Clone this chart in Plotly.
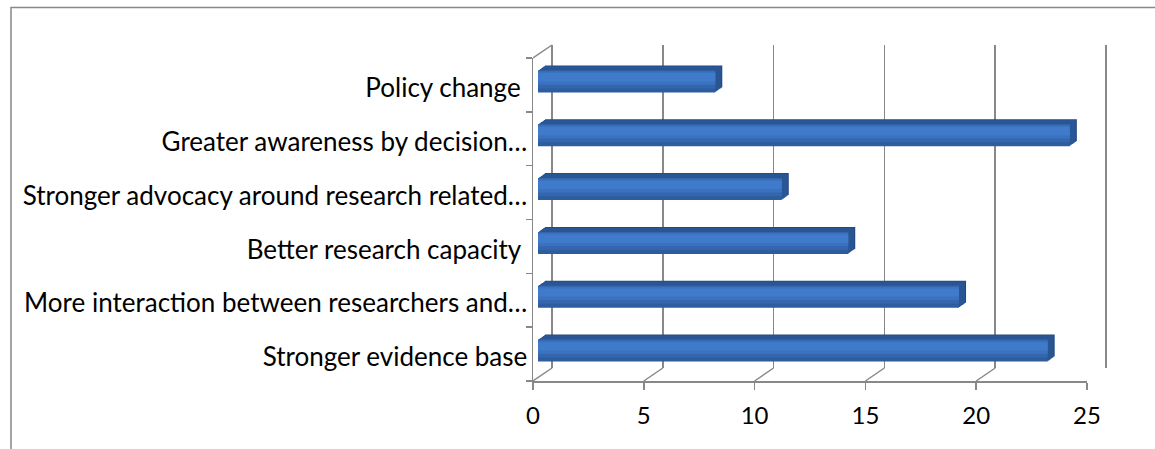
import plotly.graph_objects as go

# ---- data ----
categories = [
    "Stronger evidence base",
    "More interaction between researchers and…",
    "Better research capacity\u00a0",
    "Stronger advocacy around research related…",
    "Greater awareness by decision…",
    "Policy change\u00a0",
]
values = [23, 19, 14, 11, 24, 8]
x_ticks = [0, 5, 10, 15, 20, 25]

# ---- geometry / style ----
W, H = 1155, 449
def px(x):
    return x / W
def py(y):
    return 1 - y / H

FX0, FX1 = 533, 1087      # front floor: pixel x of 0 and 25
FY0, FY1 = 381, 58        # front plane bottom / top
DX, DY = 19, 13           # wall depth
BX, BY = 5, 3.5           # bar front-face offset
BDX, BDY = 7, 5           # bar depth
GRID = "#888888"
FAM = "Lato, 'Open Sans', sans-serif"
YFONT = dict(family=FAM, size=26, color="#000000")
XFONT = dict(family=FAM, size=24, color="#000000")
BAR_W = 22 / ((FY0 - FY1) / 6)
PPU = (FX1 - FX0) / 25.0
EXT = 2  # px extension of back-wall axis so edge grid lines are drawn

fig = go.Figure()
layout = {}

def cat_axis(domain, anchor, visible=False):
    d = dict(domain=domain, type="category", categoryorder="array",
             categoryarray=categories, range=[-0.5, 5.5], anchor=anchor,
             showgrid=False, zeroline=False, fixedrange=True, automargin=False)
    if not visible:
        d.update(showticklabels=False, ticks="", showline=False)
    return d

# front axes (subplot 1)
layout["xaxis"] = dict(domain=[px(FX0), px(FX1)], range=[0, 25], tickvals=x_ticks,
                       ticks="outside", ticklen=7, tickwidth=1.5, tickcolor=GRID,
                       showline=True, linecolor=GRID, linewidth=1.5,
                       showgrid=False, zeroline=False, tickfont=XFONT,
                       ticklabelstandoff=6, anchor="y", automargin=False,
                       fixedrange=True)
ya = cat_axis([py(FY0), py(FY1)], "x", visible=True)
ya.update(tickson="boundaries", ticks="outside", ticklen=6, tickwidth=1.5,
          tickcolor=GRID, showline=True, linecolor=GRID, linewidth=1.5,
          tickfont=YFONT, ticklabelstandoff=-1, ticklabelshift=3)
layout["yaxis"] = ya
fig.add_trace(go.Scatter(x=values, y=categories, mode="markers",
                         marker=dict(opacity=0), hoverinfo="skip",
                         showlegend=False, xaxis="x", yaxis="y"))

# back wall (subplot 2)
layout["xaxis2"] = dict(domain=[px(FX0 + DX - EXT), px(FX1 + DX + EXT)],
                        range=[-EXT / PPU, 25 + EXT / PPU],
                        tickvals=x_ticks, showgrid=True, gridcolor=GRID,
                        gridwidth=1.5, zeroline=False, showticklabels=False,
                        ticks="", showline=False, anchor="y2", automargin=False,
                        fixedrange=True)
layout["yaxis2"] = cat_axis([py(FY0 - DY), py(FY1 - DY)], "x2")
fig.add_trace(go.Scatter(x=values, y=categories, mode="markers",
                         marker=dict(opacity=0), hoverinfo="skip",
                         showlegend=False, xaxis="x2", yaxis="y2"))

# bar extrusion copies (back to front)
n = 3
for k in range(BDX, 0, -1):
    oy = BY + k * BDY / BDX
    layout[f"xaxis{n}"] = dict(domain=[px(FX0 + BX + k), px(FX1 + BX + k)], range=[0, 25],
                               visible=False, fixedrange=True, anchor=f"y{n}",
                               automargin=False)
    layout[f"yaxis{n}"] = cat_axis([py(FY0 - oy), py(FY1 - oy)], f"x{n}")
    layout[f"yaxis{n}"]["visible"] = False
    color = "#234780" if k == BDX else "#2a5694"
    fig.add_trace(go.Bar(x=values, y=categories, orientation="h", width=BAR_W,
                         marker=dict(color=color, line=dict(width=0)),
                         hoverinfo="skip", showlegend=False,
                         xaxis=f"x{n}", yaxis=f"y{n}"))
    n += 1

# front faces
layout[f"xaxis{n}"] = dict(domain=[px(FX0 + BX), px(FX1 + BX)], range=[0, 25],
                           visible=False, fixedrange=True, anchor=f"y{n}",
                           automargin=False)
layout[f"yaxis{n}"] = cat_axis([py(FY0 - BY), py(FY1 - BY)], f"x{n}")
layout[f"yaxis{n}"]["visible"] = False
stripes = [  # (fraction from bottom start, fraction height, colour)
    (0.00, 1.00, "#2d5c9f"),
    (0.18, 0.82, "#3466ae"),
    (0.35, 0.60, "#3a72bf"),
    (0.50, 0.38, "#3f7bca"),
]
for f0, fh, c in stripes:
    fig.add_trace(go.Bar(x=values, y=categories, orientation="h",
                         width=BAR_W * fh, offset=-BAR_W / 2 + BAR_W * f0,
                         marker=dict(color=c, line=dict(width=0)),
                         hoverinfo="skip", showlegend=False,
                         xaxis=f"x{n}", yaxis=f"y{n}"))

# 3-D frame lines
shapes = []
for v in x_ticks:
    shapes.append(dict(type="line", xref="x", yref="paper", xsizemode="pixel",
                       ysizemode="pixel", xanchor=v, yanchor=py(FY0),
                       x0=0, x1=DX, y0=0, y1=DY, line=dict(color=GRID, width=1.5)))
shapes.append(dict(type="line", xref="x", yref="paper", xsizemode="pixel",
                   ysizemode="pixel", xanchor=0, yanchor=py(FY1),
                   x0=0, x1=DX, y0=0, y1=DY, line=dict(color=GRID, width=1.5)))
# outer chart-area border
shapes.append(dict(type="rect", xref="paper", yref="paper",
                   x0=px(11), x1=1.05, y0=-0.05, y1=py(7.5),
                   line=dict(color=GRID, width=1.5)))

fig.update_layout(**layout)
fig.update_layout(template="none", width=W, height=H,
                  margin=dict(l=0, r=0, t=0, b=0, pad=0, autoexpand=False),
                  paper_bgcolor="white", plot_bgcolor="rgba(0,0,0,0)",
                  barmode="overlay", showlegend=False, shapes=shapes,
                  font=YFONT, hovermode=False)
fig.write_html("out.html", config={"displayModeBar": False, "staticPlot": True},
               post_script="document.body.style.margin='0';document.body.style.overflow='hidden';")
